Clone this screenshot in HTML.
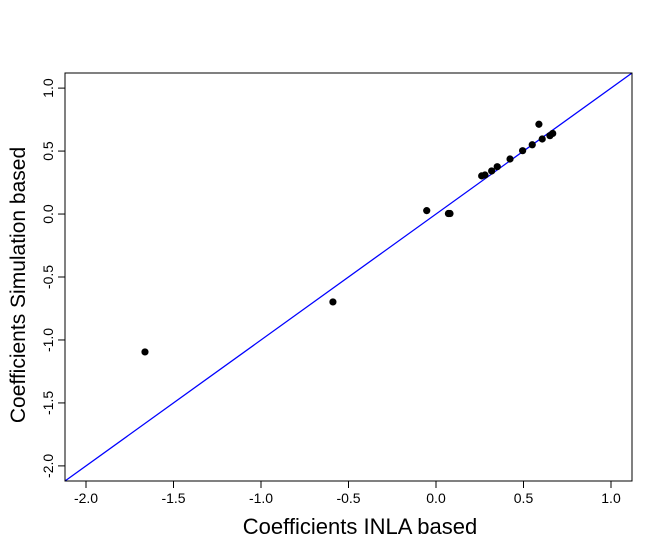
<!DOCTYPE html>
<html><head><meta charset="utf-8"><style>
body{margin:0;background:#fff;width:647px;height:539px;overflow:hidden}
text{font-family:"Liberation Sans",Arial,sans-serif;fill:#000}
</style></head><body>
<svg id="chart" width="647" height="539" xmlns="http://www.w3.org/2000/svg"></svg>
<script>
const xTicks=[-2.0,-1.5,-1.0,-0.5,0.0,0.5,1.0];
const yTicks=[-2.0,-1.5,-1.0,-0.5,0.0,0.5,1.0];
const xVals=[-1.663,-0.589,-0.053,0.071,0.08,0.261,0.28,0.318,0.35,0.423,0.495,0.55,0.607,0.651,0.667,0.588];
const yVals=[-1.095,-0.698,0.027,0.004,0.004,0.303,0.31,0.342,0.376,0.437,0.503,0.55,0.596,0.622,0.64,0.713];
const L=65,R=632,T=73,B=481,lo=-2.12,hi=1.12;
const sx=v=>L+(v-lo)/(hi-lo)*(R-L);
const sy=v=>B-(v-lo)/(hi-lo)*(B-T);
const svg=document.getElementById('chart');const NS='http://www.w3.org/2000/svg';
function mk(t,a,p){const e=document.createElementNS(NS,t);for(const k in a)e.setAttribute(k,a[k]);(p||svg).appendChild(e);return e;}
const line=mk('line',{x1:sx(lo),y1:sy(lo),x2:sx(hi),y2:sy(hi),stroke:'#0000ff','stroke-width':1.3});


const pts=mk('g',{});


xVals.forEach((x,i)=>{const c=mk('circle',{cx:sx(x),cy:sy(yVals[i]),r:3.6,fill:'#000'},pts);

});
const frame=mk('rect',{x:L,y:T,width:R-L,height:B-T,fill:'none',stroke:'#000','stroke-width':1});


const xa=mk('g',{});


xTicks.forEach(v=>{mk('line',{x1:sx(v),x2:sx(v),y1:B,y2:B+7,stroke:'#000'},xa);
const t=mk('text',{x:sx(v),y:B+22,'text-anchor':'middle','font-size':14},xa);t.textContent=v.toFixed(1);

});
const ya=mk('g',{});


yTicks.forEach(v=>{mk('line',{x1:L,x2:L-7,y1:sy(v),y2:sy(v),stroke:'#000'},ya);
const t=mk('text',{x:0,y:0,'text-anchor':'middle','font-size':14,transform:`translate(${L-12},${sy(v)}) rotate(-90)`},ya);t.textContent=v.toFixed(1);

});
const xt=mk('text',{x:360,y:534,'text-anchor':'middle','font-size':22});xt.textContent='Coefficients INLA based';


const yt=mk('text',{x:0,y:0,'text-anchor':'middle','font-size':21,transform:`translate(25,285) rotate(-90)`});yt.textContent='Coefficients Simulation based';


</script>
</body></html>
